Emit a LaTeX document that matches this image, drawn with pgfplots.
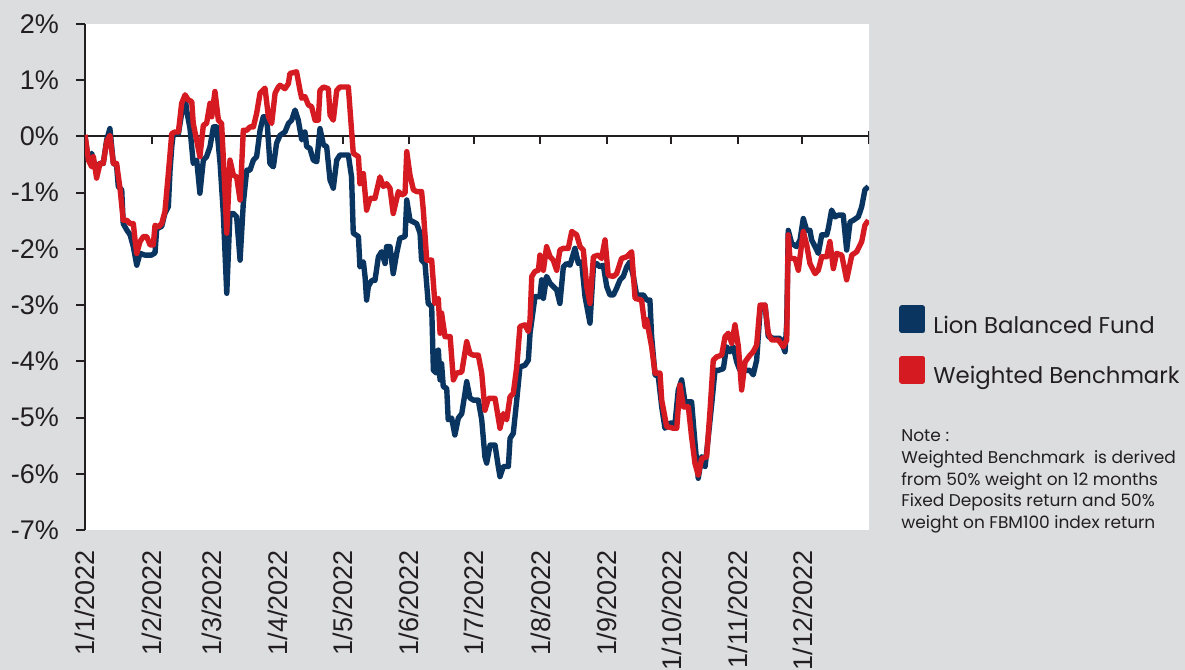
\documentclass[border=0pt]{standalone}
\usepackage{fontspec}
\setmainfont{Liberation Sans}
\newfontfamily\legfont{Poppins}
\usepackage{pgfplots}
\usepackage{pgfplotstable}
\pgfplotsset{compat=1.18}

\definecolor{bggray}{RGB}{220,221,223}
\definecolor{fundblue}{RGB}{10,53,96}
\definecolor{benchred}{RGB}{214,26,34}
\definecolor{inkgray}{RGB}{35,31,32}

% day = days since 1 Jan 2022, ret = cumulative return (%)
\pgfplotstableread{
day ret
0 0
1.6 -0.42
3.1 -0.30
4.7 -0.54
7.0 -0.48
8.5 -0.48
10.1 -0.06
11.6 0.14
13.2 -0.48
14.7 -0.51
15.5 -0.89
17.1 -0.95
17.8 -1.55
19.4 -1.66
21.0 -1.75
22.5 -1.96
24.1 -2.29
25.6 -2.08
27.9 -2.11
31.0 -2.11
32.6 -2.07
33.4 -1.64
35.7 -1.60
37.2 -1.37
38.8 -1.25
39.6 -0.60
40.4 -0.18
41.1 0.05
43.5 0.05
45.0 0.41
46.6 0.71
47.3 0.47
48.9 0.14
50.4 -0.48
52.0 -0.42
53.5 -1.01
55.1 -0.42
56.6 -0.36
58.2 -0.18
59.8 0.17
61.3 0.17
62.9 -0.48
64.4 -1.37
66.0 -2.79
67.5 -1.37
69.1 -1.37
70.6 -1.43
72.2 -2.20
73.7 -1.19
75.3 -0.60
76.8 -0.60
78.4 -0.42
79.9 -0.36
81.5 0.11
83.0 0.35
84.6 0.35
86.1 -0.48
87.7 -0.54
89.2 -0.12
90.8 0.02
93.1 0.08
94.7 0.23
96.2 0.29
97.8 0.47
99.3 0.29
100.9 -0.06
102.4 0.08
103.2 -0.18
104.7 -0.21
106.3 -0.42
107.9 -0.45
109.4 0.14
111.0 -0.15
112.5 -0.18
114.1 -0.78
114.8 -0.84
115.6 -0.92
117.2 -0.42
118.7 -0.33
122.6 -0.33
124.1 -0.72
124.9 -1.72
127.3 -1.78
128.0 -2.32
129.6 -2.23
130.4 -2.50
131.1 -2.91
131.9 -2.67
133.5 -2.56
135.0 -2.56
136.6 -2.14
138.1 -2.05
139.7 -2.26
140.4 -1.96
142.0 -1.96
143.5 -2.44
145.1 -2.08
146.6 -1.81
149.0 -1.78
149.8 -1.13
151.3 -1.49
154.4 -1.55
156.0 -1.72
156.7 -2.20
158.3 -2.26
159.8 -2.97
161.4 -3.03
162.2 -4.16
163.7 -4.21
164.5 -3.80
165.3 -4.33
166.0 -4.04
166.8 -4.45
168.4 -4.48
169.1 -5.04
170.7 -5.01
172.2 -5.31
173.8 -5.01
175.4 -4.93
176.9 -4.57
177.7 -4.36
179.2 -4.65
180.8 -4.69
183.1 -4.69
184.7 -5.04
186.2 -5.70
187.0 -5.81
188.6 -5.49
190.9 -5.49
192.4 -5.87
193.2 -6.05
194.8 -5.87
197.1 -5.87
197.9 -5.37
199.4 -5.28
201.0 -4.69
202.5 -4.10
204.8 -4.07
206.4 -3.98
207.2 -3.50
209.5 -2.85
211.8 -2.85
212.6 -2.55
213.4 -2.88
214.9 -2.49
216.5 -2.61
218.0 -2.67
219.6 -2.73
221.1 -2.97
222.7 -2.32
224.2 -2.26
225.8 -2.29
228.1 -1.99
229.7 -2.26
231.2 -2.23
232.8 -2.85
235.1 -3.32
236.7 -2.32
238.2 -2.26
239.8 -2.32
241.3 -2.29
242.9 -2.67
244.4 -2.82
246.0 -2.82
247.5 -2.70
249.1 -2.55
250.6 -2.49
252.2 -2.32
253.7 -2.23
255.3 -2.49
256.8 -2.82
260.0 -2.82
261.5 -2.91
263.0 -2.91
263.8 -3.56
265.4 -4.24
266.9 -4.27
268.5 -4.81
270.0 -5.19
272.4 -5.10
274.7 -5.10
276.2 -4.51
277.8 -4.33
279.3 -4.72
282.4 -4.72
284.0 -5.46
285.5 -6.08
287.1 -5.70
288.7 -5.87
290.2 -5.34
291.8 -4.75
293.3 -4.16
294.9 -4.16
297.2 -4.13
298.7 -3.74
300.3 -3.83
301.8 -3.74
303.4 -4.01
304.9 -4.16
306.5 -4.16
309.6 -4.16
311.1 -4.24
312.7 -3.98
314.3 -3.09
316.6 -3.00
318.1 -3.56
320.5 -3.59
323.6 -3.59
325.9 -3.83
326.7 -3.32
327.4 -1.67
329.0 -1.90
331.3 -1.96
332.9 -1.84
334.4 -1.46
336.0 -1.67
337.5 -1.67
338.3 -1.84
339.9 -1.96
341.4 -2.08
343.0 -1.75
345.3 -1.75
346.1 -1.63
347.6 -1.31
349.2 -1.43
350.7 -1.40
353.0 -1.40
354.6 -2.02
356.2 -1.52
357.7 -1.49
360.0 -1.43
361.6 -1.25
363.1 -0.95
364.7 -0.89
}\fundtbl

\pgfplotstableread{
day ret
0 0.03
1.6 -0.42
3.1 -0.54
3.9 -0.36
5.4 -0.74
7.0 -0.48
8.5 -0.48
10.1 -0.09
11.6 0.02
13.2 -0.48
14.7 -0.48
16.3 -0.92
17.8 -1.49
19.4 -1.49
21.0 -1.55
22.5 -1.55
23.3 -1.84
24.1 -2.08
25.6 -1.87
27.2 -1.78
28.7 -1.78
30.3 -1.93
31.8 -1.93
32.6 -1.58
34.1 -1.61
35.7 -1.55
37.2 -1.34
38.8 -0.66
40.4 0.05
41.9 0.08
43.5 0.08
45.0 0.59
46.6 0.74
48.1 0.65
49.7 0.62
50.4 0.23
52.0 -0.07
53.5 -0.36
55.1 0.20
56.6 0.23
58.2 0.59
59.0 0.35
60.5 0.80
62.1 0.29
63.6 0.23
65.2 -1.01
66.0 -1.72
67.5 -0.42
69.1 -0.69
70.6 -0.72
72.2 -1.13
73.7 0.11
75.3 0.11
76.8 0.17
78.4 0.17
79.9 0.41
81.5 0.77
83.8 0.86
85.4 0.35
86.9 0.23
88.5 0.77
90.0 0.88
90.8 0.91
93.1 0.85
94.7 0.94
95.4 1.12
98.5 1.15
100.1 0.82
100.9 0.68
102.4 0.71
104.0 0.56
105.5 0.53
107.1 0.29
108.6 0.29
109.4 0.82
111.0 0.88
113.3 0.85
114.1 0.38
115.6 0.29
117.2 0.82
118.7 0.88
122.6 0.88
124.9 -0.30
127.3 -0.36
128.0 -0.84
129.6 -0.66
131.1 -1.31
132.7 -1.10
135.0 -1.10
137.3 -0.72
138.9 -0.89
140.4 -0.84
142.0 -0.92
143.5 -1.37
145.9 -0.98
147.4 -1.04
149.0 -1.01
149.8 -0.27
151.3 -0.69
152.9 -0.95
154.4 -0.98
156.7 -0.98
157.5 -1.31
159.1 -2.20
161.4 -2.20
162.9 -2.97
164.5 -2.88
165.3 -3.50
166.0 -3.14
167.6 -3.56
170.0 -3.56
171.5 -4.33
173.0 -4.21
175.4 -4.19
177.7 -3.65
179.2 -3.86
180.8 -3.89
183.1 -3.89
184.7 -4.21
186.2 -4.87
187.8 -4.66
190.9 -4.66
193.2 -5.19
194.8 -4.93
196.3 -5.04
197.9 -4.63
199.4 -4.57
201.0 -4.10
202.5 -3.38
204.8 -3.35
206.4 -3.47
207.2 -3.26
208.0 -2.49
209.5 -2.40
211.1 -2.38
211.8 -2.11
213.4 -2.38
214.9 -1.96
216.5 -2.14
218.0 -2.20
219.6 -2.38
221.1 -2.02
222.7 -1.99
225.0 -1.99
226.6 -1.69
228.9 -1.75
230.5 -1.96
232.0 -2.02
233.6 -2.67
235.1 -2.97
236.7 -2.14
239.0 -2.11
240.5 -2.17
242.1 -1.84
243.6 -2.47
246.0 -2.49
247.5 -2.44
249.8 -2.17
252.2 -2.14
254.5 -2.05
256.1 -2.88
259.1 -2.91
260.7 -3.38
261.5 -3.26
263.8 -3.74
265.4 -4.21
267.7 -4.21
268.5 -4.69
270.8 -5.16
273.9 -5.19
275.5 -5.19
277.0 -4.42
278.6 -4.81
280.9 -4.81
282.4 -5.34
284.0 -5.82
285.5 -6.02
287.1 -5.73
289.4 -5.70
291.0 -4.87
292.5 -3.98
294.1 -3.92
296.4 -3.89
298.0 -3.56
299.5 -3.50
301.1 -3.68
302.6 -3.35
304.2 -3.74
305.7 -4.51
307.3 -4.01
309.6 -3.89
311.1 -3.83
312.7 -3.71
314.3 -3.00
316.6 -3.00
318.1 -3.50
319.7 -3.62
322.8 -3.62
325.1 -3.74
326.7 -3.62
327.4 -1.75
328.2 -2.17
330.6 -2.17
332.1 -2.38
334.4 -1.69
336.0 -1.93
337.5 -2.26
339.9 -2.44
341.4 -2.38
343.0 -2.14
345.3 -2.14
346.8 -1.87
348.4 -2.35
349.9 -2.08
352.3 -2.11
354.6 -2.55
357.0 -2.11
359.3 -2.05
361.6 -1.87
363.1 -1.58
364.7 -1.49
}\benchtbl

\begin{document}
\begin{tikzpicture}[x=1pt,y=1pt]
\fill[bggray] (0,0) rectangle (592.5,335);
\useasboundingbox (0,0) rectangle (592.5,335);
\begin{axis}[
  at={(42.5pt,70pt)}, anchor=south west,
  scale only axis,
  width=392pt, height=253pt,
  xmin=0, xmax=365, ymin=-7, ymax=2,
  axis background/.style={fill=white},
  axis y line*=left,
  axis x line*=bottom,
  x axis line style={draw=none},
  y axis line style={inkgray, line width=1pt},
  ytick={-7,-6,...,2},
  yticklabels={-7\%,-6\%,-5\%,-4\%,-3\%,-2\%,-1\%,0\%,1\%,2\%},
  ytick style={inkgray, line width=1pt},
  ytick align=outside,
  major tick length=4.5pt,
  yticklabel style={font=\fontsize{13.5}{16}\selectfont, text=inkgray, anchor=east, inner sep=0pt},
  yticklabel shift=8.3pt,
  xtick={0,31,59,90,120,151,181,212,243,273,304,334},
  xticklabels={1/1/2022,1/2/2022,1/3/2022,1/4/2022,1/5/2022,1/6/2022,1/7/2022,1/8/2022,1/9/2022,1/10/2022,1/11/2022,1/12/2022},
  xtick style={draw=none},
  xticklabel style={font=\fontsize{13.5}{16}\selectfont, text=inkgray, rotate=90, anchor=east, inner sep=0pt},
  xticklabel shift=10pt,
  legend style={at={(1.0383,0.4447)}, anchor=north west, draw=none, fill=none,
    inner sep=0pt, row sep=11.2pt,
    font=\legfont\fontsize{11.4}{13}\selectfont, text=inkgray,
    nodes={inner sep=0pt, text height=11pt, text depth=0pt}},
  legend cell align=left,
  legend image code/.code={\fill[#1] (0pt,-4.3pt) rectangle (10.3pt,7pt); \path (14.3pt,0pt);},
  line join=round,
]
\draw[inkgray, line width=1pt] (axis cs:0,0) -- (axis cs:365,0);
\pgfplotsinvokeforeach{31,59,90,120,151,181,212,243,273,304,334}{
  \draw[inkgray, line width=1pt] (axis cs:#1,0) -- ++(0pt,-4pt);
}
\draw[inkgray, line width=1pt] (axis cs:365,0) ++(0pt,2.5pt) -- ++(0pt,-6.5pt);
\addplot[fundblue, line width=2.7pt] table[x=day, y=ret] {\fundtbl};
\addlegendentry{Lion Balanced Fund}
\addplot[benchred, line width=2.7pt] table[x=day, y=ret] {\benchtbl};
\addlegendentry{Weighted Benchmark}
\end{axis}
\node[anchor=base west, inner sep=0pt, align=left, text=inkgray,
  font=\legfont\fontsize{8.5}{10.85}\selectfont] at (450.5,70.8)
  {Note :\\Weighted Benchmark\ \ is derived\\from 50\% weight on 12 months\\Fixed Deposits return and 50\%\\weight on FBM100 index return};
\end{tikzpicture}
\end{document}
